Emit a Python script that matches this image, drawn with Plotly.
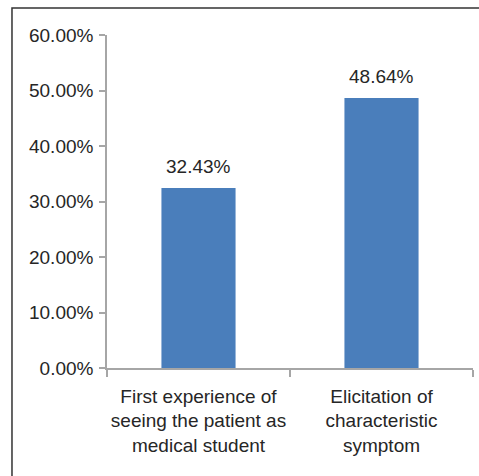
import plotly.graph_objects as go

categories = ["First experience of<br>seeing the patient as<br>medical student",
              "Elicitation of<br>characteristic<br>symptom"]
values = [32.43, 48.64]
value_labels = ["32.43%", "48.64%"]
y_tickvals = [0, 10, 20, 30, 40, 50, 60]
y_ticktext = ["0.00%", "10.00%", "20.00%", "30.00%", "40.00%", "50.00%", "60.00%"]

FONT = "Liberation Sans, Arial, sans-serif"
TXT = "#262626"
AX = "#a6a6a6"
FS = 19

fig = go.Figure()
fig.add_trace(go.Bar(x=categories, y=values, marker=dict(color="#4A7EBB", line=dict(width=0)),
                     width=0.405, hoverinfo="skip"))

for c, v, t in zip(categories, values, value_labels):
    fig.add_annotation(x=c, y=v, text=t, showarrow=False, yanchor="bottom",
                       yshift=9, font=dict(family=FONT, size=FS, color=TXT))

fig.add_shape(type="rect", xref="paper", yref="paper", x0=-0.2596, x1=1.2, y0=-0.6, y1=1.081,
              line=dict(color="#333333", width=1.5), fillcolor="rgba(0,0,0,0)", layer="below")

fig.update_layout(
    width=479, height=476,
    margin=dict(l=107, r=6, t=35, b=108),
    paper_bgcolor="white", plot_bgcolor="white",
    showlegend=False,
    font=dict(family=FONT, size=FS, color=TXT),
    xaxis=dict(showline=True, linecolor=AX, linewidth=1.5, ticks="outside", tickson="boundaries",
               ticklen=7, tickcolor=AX, tickwidth=1.5, showgrid=False, zeroline=False,
               ticklabelstandoff=10, tickangle=0, automargin=False,
               tickfont=dict(family=FONT, size=FS, color=TXT)),
    yaxis=dict(range=[0, 60], tickvals=y_tickvals, ticktext=y_ticktext, showline=True,
               linecolor=AX, linewidth=1.5, ticks="outside", ticklen=6, tickcolor=AX, tickwidth=1.5,
               showgrid=False, zeroline=False, ticklabelstandoff=2, automargin=False,
               tickfont=dict(family=FONT, size=FS, color=TXT)),
)

fig.write_html("out.html")
